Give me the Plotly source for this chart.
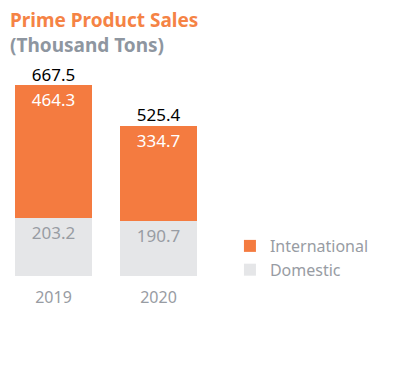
import plotly.graph_objects as go

years = ["2019", "2020"]
domestic = [203.2, 190.7]
international = [464.3, 334.7]
totals = [667.5, 525.4]

ORANGE = "#F47B40"
LIGHT = "#E5E6E8"
GRAY_TXT = "#989CA3"
FONT = "Noto Sans"

fig = go.Figure()
fig.add_trace(go.Bar(
    x=years, y=domestic, name="Domestic", marker=dict(color=LIGHT, line=dict(width=0)),
    text=[f"{v:.1f}" for v in domestic], textposition="inside", insidetextanchor="end",
    textfont=dict(color=GRAY_TXT, size=17, family=FONT), width=0.733,
))
fig.add_trace(go.Bar(
    x=years, y=international, name="International", marker=dict(color=ORANGE, line=dict(width=0)),
    text=[f"{v:.1f}" for v in international], textposition="inside", insidetextanchor="end",
    textfont=dict(color="white", size=17, family=FONT), width=0.733,
))
fig.add_trace(go.Scatter(
    x=years, y=totals, mode="text", text=[f"{v:.1f}" for v in totals],
    textposition="top center", textfont=dict(color="black", size=17, family=FONT),
    showlegend=False, hoverinfo="skip",
))

fig.update_layout(
    width=411, height=358, barmode="stack",
    margin=dict(l=0, r=0, t=0, b=90),
    paper_bgcolor="white", plot_bgcolor="white",
    font=dict(family=FONT),
    showlegend=True,
    legend=dict(x=0.540, y=0.1754, xanchor="left", yanchor="top", traceorder="reversed",
                font=dict(size=16, color=GRAY_TXT, family=FONT), itemwidth=30,
                bgcolor="rgba(0,0,0,0)"),
    uniformtext=dict(minsize=10, mode="show"),
)
fig.add_annotation(text="<b>Prime Product Sales</b>", xref="paper", yref="paper",
                   x=0, y=0.955, xanchor="left", yanchor="middle",
                   showarrow=False, font=dict(size=19, color="#F58345", family=FONT))
fig.add_annotation(text="<b>(Thousand Tons)</b>", xref="paper", yref="paper",
                   x=0, y=0.862, xanchor="left", yanchor="middle",
                   showarrow=False, font=dict(size=19, color="#8E96A0", family=FONT))
fig.update_xaxes(range=[-0.4333, 3.481], showgrid=False, showline=False, zeroline=False,
                 ticks="outside", ticklen=7, tickcolor="rgba(0,0,0,0)",
                 tickfont=dict(size=16, color=GRAY_TXT, family=FONT))
fig.update_yaxes(range=[0, 936.7], visible=False)

fig.write_html("out.html")
